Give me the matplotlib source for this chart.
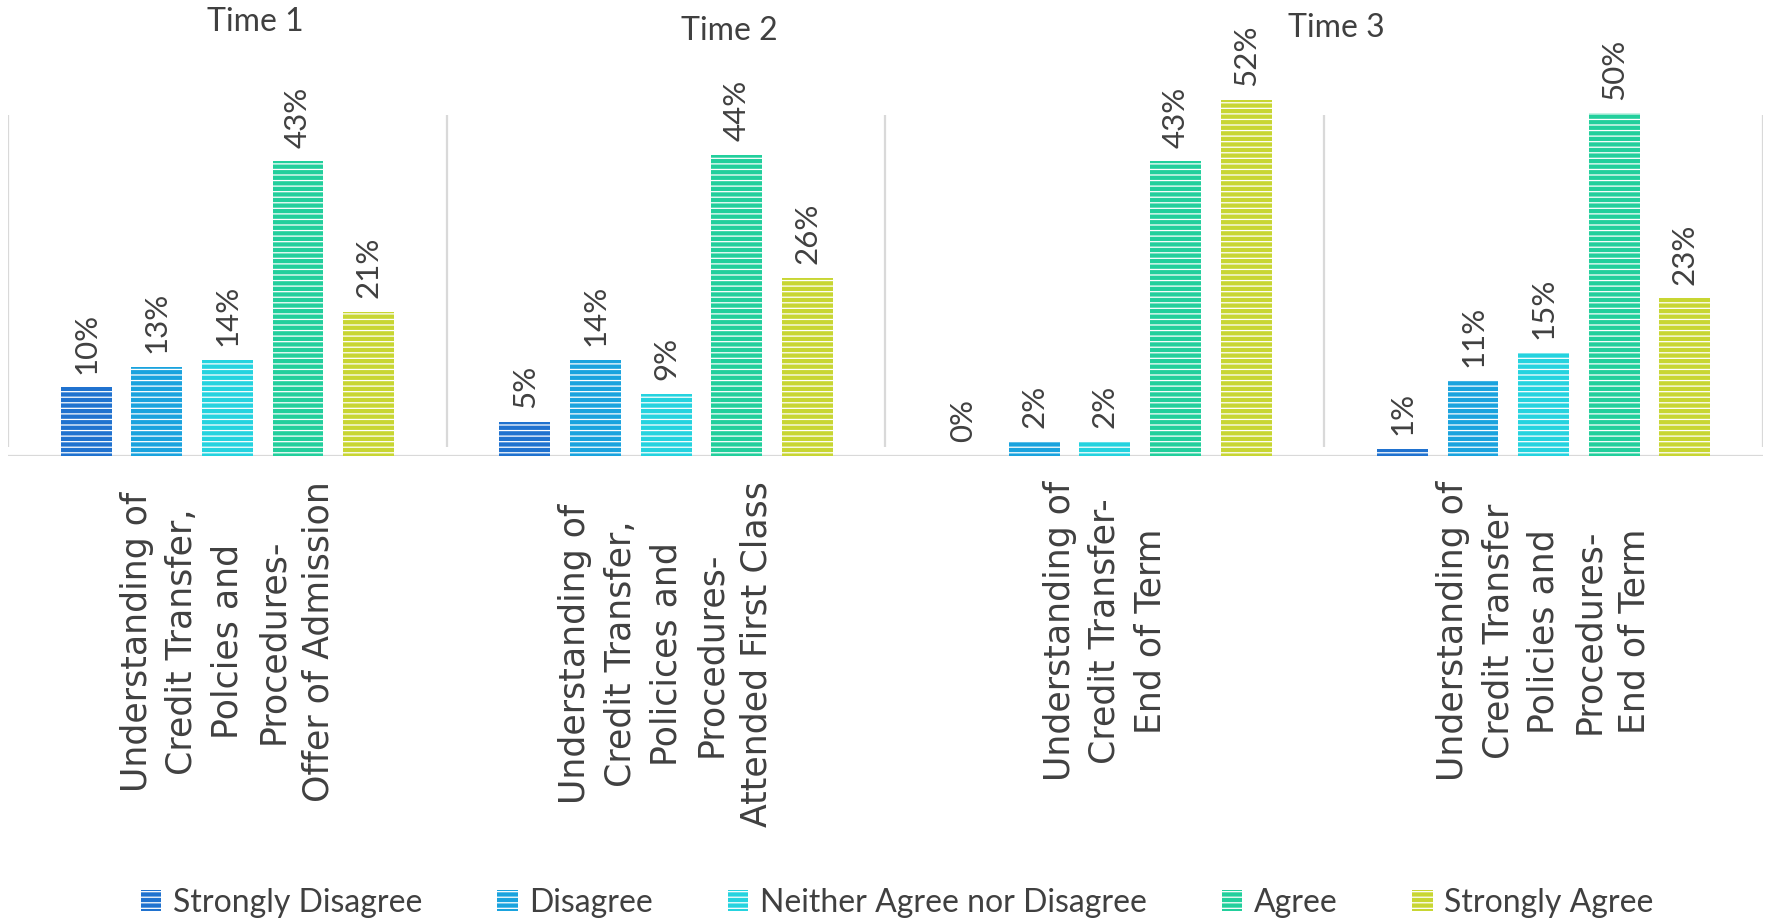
import matplotlib
matplotlib.use("Agg")
import matplotlib.pyplot as plt
from matplotlib.patches import Patch
import numpy as np

# ---- data -------------------------------------------------------------
categories = [
    "Understanding of\nCredit Transfer,\nPolcies and\nProcedures-\nOffer of Admission",
    "Understanding of\nCredit Transfer,\nPolicices and\nProcedures-\nAttended First Class",
    "Understanding of\nCredit Transfer-\nEnd of Term",
    "Understanding of\nCredit Transfer\nPolicies and\nProcedures-\nEnd of Term",
]
series_names = ["Strongly Disagree", "Disagree", "Neither Agree nor Disagree",
                "Agree", "Strongly Agree"]
strongly_disagree = [10, 5, 0, 1]
disagree = [13, 14, 2, 11]
neither = [14, 9, 2, 15]
agree = [43, 44, 43, 50]
strongly_agree = [21, 26, 52, 23]
time_labels = ["Time 1", "Time 2", "Time 3"]

series_values = [strongly_disagree, disagree, neither, agree, strongly_agree]
colors = ["#2072CF", "#1AA3DE", "#25D3DF", "#22CF9C", "#C8D633"]

TEXT = "#404040"
GRID = "#D9D9D9"

plt.rcParams["hatch.color"] = "white"
plt.rcParams["hatch.linewidth"] = 0.9

W, H = 1766, 921
fig = plt.figure(figsize=(W / 100, H / 100), dpi=100)

# plot area in pixel terms
left_px, right_px = 8, 1763
base_px, top_px = 456, 45
ax = fig.add_axes([left_px / W, (H - base_px) / H,
                   (right_px - left_px) / W, (base_px - top_px) / H])

group_gap = 6.21
bar_step = 1.0
bar_w = 0.72
centers = np.arange(len(categories)) * group_gap

for j, (vals, col) in enumerate(zip(series_values, colors)):
    xs = centers + (j - 2) * bar_step
    ax.bar(xs, vals, width=bar_w, color=col, edgecolor="white",
           linewidth=0, hatch="---", zorder=2)
    for x, v in zip(xs, vals):
        ax.annotate(f"{v}%", xy=(x, v), xytext=(0, 10),
                    textcoords="offset points", rotation=90,
                    ha="center", va="bottom", fontsize=22.5,
                    family="Lato", color=TEXT)

ax.set_xlim(centers[0] - group_gap / 2, centers[-1] + group_gap / 2)
ax.set_ylim(0, 60)

# baseline and group separators
ax.axhline(0, color=GRID, lw=1.6, zorder=1)
bounds = np.append(centers - group_gap / 2, centers[-1] + group_gap / 2)
ax.vlines(bounds, 1.3, 49.8, color=GRID, lw=1.6, zorder=1)

for s in ax.spines.values():
    s.set_visible(False)
ax.set_yticks([])
ax.set_xticks(centers)
ax.set_xticklabels(categories, rotation=90)
for lbl in ax.get_xticklabels():
    lbl.set_fontfamily("DejaVu Sans")
    lbl.set_fontsize(25)
    lbl.set_color(TEXT)
    lbl.set_linespacing(1.42)
    lbl.set_multialignment("center")
ax.tick_params(axis="x", length=0, pad=18)

# period titles
for txt, (px, py) in zip(time_labels, [(255, 22), (729, 31), (1336, 28)]):
    fig.text(px / W, 1 - py / H, txt, ha="center", va="center",
             fontsize=23, family="Lato", color=TEXT)

# legend
handles = [Patch(facecolor=c, edgecolor="white", linewidth=0, hatch="---")
           for c in colors]
fig.legend(handles, series_names, loc="center", ncol=5,
           bbox_to_anchor=(0.508, 1 - 903 / H), frameon=False,
           prop={"family": "Lato", "size": 23}, labelcolor=TEXT,
           handlelength=0.65, handleheight=0.65, handletextpad=0.35,
           columnspacing=2.35)

fig.savefig("out.png", dpi=100)
